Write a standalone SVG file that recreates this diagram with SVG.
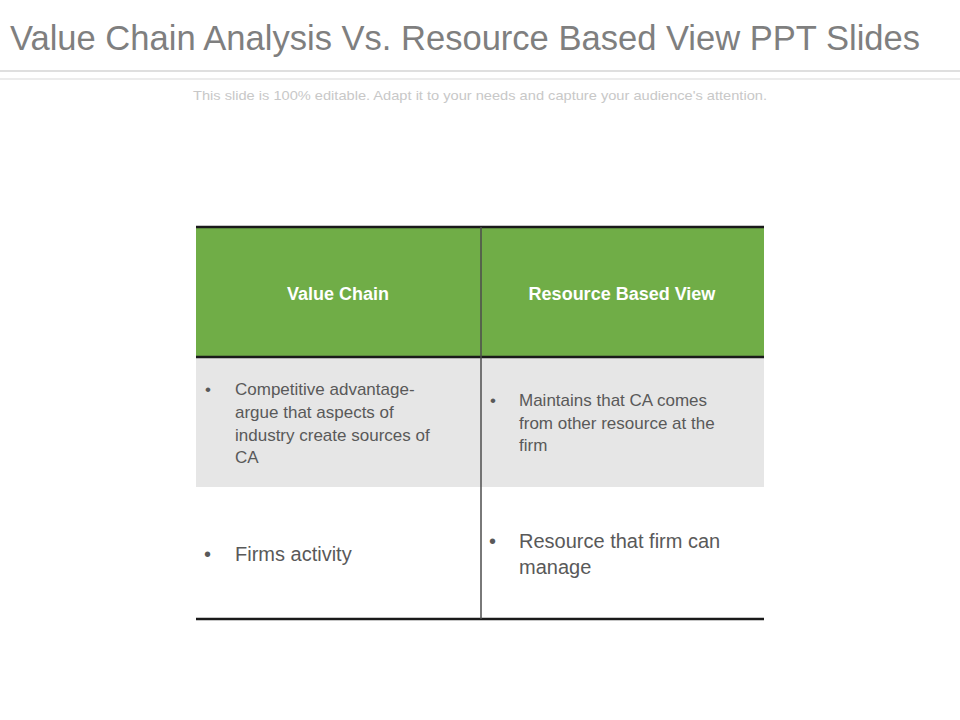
<svg xmlns="http://www.w3.org/2000/svg" width="960" height="720" viewBox="0 0 960 720">
<style>
text{font-family:"Liberation Sans",Arial,sans-serif}
.h{fill:#fff;font-weight:bold;font-size:18px;text-anchor:middle}
.s{fill:#595959;font-size:17px}
.l{fill:#595959;font-size:20px}
</style>
<rect width="960" height="720" fill="#fff"/>
<text x="10" y="50" font-size="35" fill="#7f7f7f" textLength="910" lengthAdjust="spacingAndGlyphs">Value Chain Analysis Vs. Resource Based View PPT Slides</text>
<line x1="0" y1="71" x2="960" y2="71" stroke="#bfbfbf" stroke-width="1.2"/>
<line x1="0" y1="79" x2="960" y2="79" stroke="#d9d9d9" stroke-width="1"/>
<text x="193" y="100" font-size="13" fill="#c8c8c8" textLength="574" lengthAdjust="spacingAndGlyphs">This slide is 100% editable. Adapt it to your needs and capture your audience's attention.</text>
<g id="header">
<rect x="196" y="228" width="568" height="129" fill="#70ad47"/>
<text class="h" x="338" y="300">Value Chain</text>
<text class="h" x="622" y="300">Resource Based View</text>
</g>
<g id="row1">
<rect x="196" y="357" width="568" height="130" fill="#e6e6e6"/>
<text class="s" x="205" y="395">•</text>
<text class="s" x="235" y="395">Competitive advantage-</text>
<text class="s" x="235" y="418">argue that aspects of</text>
<text class="s" x="235" y="441">industry create sources of</text>
<text class="s" x="235" y="463">CA</text>
<text class="s" x="490" y="406">•</text>
<text class="s" x="519" y="406">Maintains that CA comes</text>
<text class="s" x="519" y="429">from other resource at the</text>
<text class="s" x="519" y="451">firm</text>
</g>
<g id="row2">
<text class="l" x="204" y="561" font-size="16">•</text>
<text class="l" x="235" y="561">Firms activity</text>
<text class="l" x="489" y="548" font-size="16">•</text>
<text class="l" x="519" y="548">Resource that firm can</text>
<text class="l" x="519" y="574">manage</text>
</g>
<g id="lines">
<line x1="196" y1="227" x2="764" y2="227" stroke="#1a1a1a" stroke-width="2.5"/>
<line x1="196" y1="357" x2="764" y2="357" stroke="#1a1a1a" stroke-width="2.5"/>
<line x1="196" y1="619" x2="764" y2="619" stroke="#1a1a1a" stroke-width="2.5"/>
<line x1="481" y1="227" x2="481" y2="619" stroke="#4d4d4d" stroke-width="1.5"/>
</g>
</svg>
